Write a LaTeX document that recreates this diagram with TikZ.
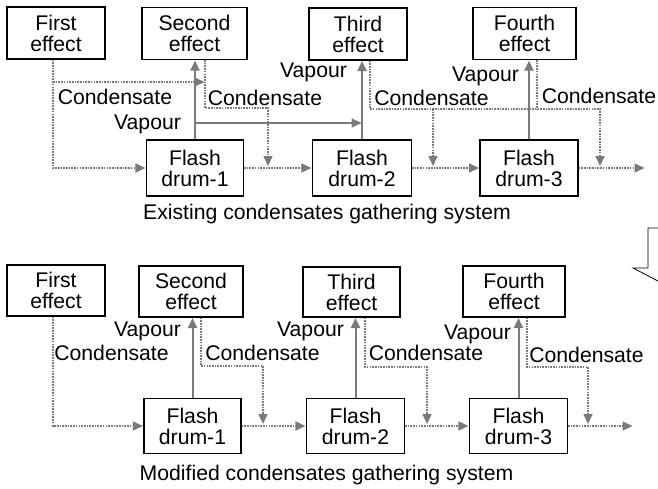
\documentclass[tikz,border=0pt]{standalone}
\usepackage{fontspec}
\setmainfont{Liberation Sans}
\usepackage{xcolor}
\usetikzlibrary{arrows.meta}
\definecolor{linegray}{RGB}{122,122,122}
\newcommand{\flowfont}{\fontsize{21.2}{21}\selectfont}

\begin{document}
\begin{tikzpicture}[x=1pt, y=-1pt,
    unit/.style={draw, line width=1.1pt, minimum width=98pt, minimum height=52pt, align=center, inner sep=0pt, font=\flowfont},
    drum/.style={unit, minimum height=56pt},
    cond/.style={draw=linegray, line width=1.6pt, dash pattern=on 1.6pt off 1.1pt},
    vap/.style={draw=linegray, line width=2pt},
    tip/.style={-{Triangle[length=10pt, width=9pt]}, shorten >=0.5pt},
    lbl/.style={font=\flowfont, inner sep=0pt}]
    \useasboundingbox (0,0) rectangle (658,488);

    % Existing system
    \node[unit] (ex1) at (56,33) {First\\effect};
    \node[unit, minimum width=105pt] (ex2) at (194.5,33.5) {Second\\effect};
    \node[unit] (ex3) at (358,34) {Third\\effect};
    \node[unit, minimum width=103pt] (ex4) at (524.5,33.5) {Fourth\\effect};
    \node[drum, minimum width=97pt] (exd1) at (195,168) {Flash\\drum-1};
    \node[drum, minimum width=99pt] (exd2) at (362,168) {Flash\\drum-2};
    \node[drum] (exd3) at (529,168) {Flash\\drum-3};

    \coordinate (exc1) at ([xshift=-3pt]ex1.south);
    \coordinate (exc2) at ([xshift=10.5pt]ex2.south);
    \coordinate (exc3) at ([xshift=12pt]ex3.south);
    \coordinate (exc4) at ([xshift=12.5pt]ex4.south);
    \coordinate (exj1) at (205,82);
    \coordinate (exk2) at (268,108);
    \coordinate (exk3) at (433,109);
    \coordinate (exk4) at (600,109);
    \coordinate (exv1) at (195,123);
    \coordinate (exout) at (645,168);

    % condensate lines
    \draw[cond, tip] (exc1) |- (exd1.west);
    \draw[cond, tip] (exc1 |- exj1) -- (exj1);
    \draw[cond, tip] (exc2) |- (exk2) -- ([yshift=1.5pt]exk2 |- exd1.east);
    \draw[cond, tip] (exc3) |- (exk4) -- ([yshift=1.5pt]exk4 |- exd3.east);
    \draw[cond, tip] (exk3) -- ([yshift=1.5pt]exk3 |- exd2.east);
    \draw[cond] (exc4) -- (exc4 |- exk4);
    \draw[cond, tip] (exd1.east) -- (exd2.west);
    \draw[cond, tip] (exd2.east) -- (exd3.west);
    \draw[cond, tip] (exd3.east) -- (exout);

    % vapour lines
    \draw[vap, tip] (exd1.north) -- (exd1.north |- ex2.south);
    \draw[vap, tip] (exv1) -- (exv1 -| exd2.north);
    \draw[vap, tip] (exd2.north) -- (exd2.north |- ex3.south);
    \draw[vap, tip] (exd3.north) -- (exd3.north |- ex4.south);

    \node[lbl] (exl1) at (115,97) {Condensate};
    \node[lbl] (exl2) at (147.5,124) {Vapour};
    \node[lbl] (exl3) at (265,98) {Condensate};
    \node[lbl] (exl4) at (313.5,72) {Vapour};
    \node[lbl] (exl5) at (431.5,98) {Condensate};
    \node[lbl] (exl6) at (485.5,76) {Vapour};
    \node[lbl] (exl7) at (599,96) {Condensate};
    \node[lbl] (excap) at (327,214) {Existing condensates gathering system};

    % Modified system
    \node[unit, minimum height=51pt] (mo1) at (56,290.5) {First\\effect};
    \node[unit, minimum width=104pt, minimum height=51pt] (mo2) at (191,291.5) {Second\\effect};
    \node[unit, minimum width=97pt, minimum height=50pt] (mo3) at (351.5,292) {Third\\effect};
    \node[unit, minimum width=102pt, minimum height=51pt] (mo4) at (514,291.5) {Fourth\\effect};
    \node[drum, minimum width=97pt, minimum height=55pt] (mod1) at (192.5,426) {Flash\\drum-1};
    \node[drum, minimum height=55pt] (mod2) at (355.5,426) {Flash\\drum-2};
    \node[drum, minimum height=55pt] (mod3) at (518.5,426) {Flash\\drum-3};

    \coordinate (moc1) at ([xshift=-3pt]mo1.south);
    \coordinate (moc2) at ([xshift=10pt]mo2.south);
    \coordinate (moc3) at ([xshift=13.5pt]mo3.south);
    \coordinate (moc4) at ([xshift=13pt]mo4.south);
    \coordinate (mok2) at (263,366);
    \coordinate (mok3) at (427,367);
    \coordinate (mok4) at (588,367);
    \coordinate (moout) at (633,426);

    % condensate lines
    \draw[cond, tip] (moc1) |- (mod1.west);
    \draw[cond, tip] (moc2) |- (mok2) -- ([yshift=1.5pt]mok2 |- mod1.east);
    \draw[cond, tip] (moc3) |- (mok3) -- ([yshift=1.5pt]mok3 |- mod2.east);
    \draw[cond, tip] (moc4) |- (mok4) -- ([yshift=1.5pt]mok4 |- mod3.east);
    \draw[cond, tip] (mod1.east) -- (mod2.west);
    \draw[cond, tip] (mod2.east) -- (mod3.west);
    \draw[cond, tip] (mod3.east) -- (moout);

    % vapour lines
    \draw[vap, tip] (mod1.north) -- (mod1.north |- mo2.south);
    \draw[vap, tip] (mod2.north) -- (mod2.north |- mo3.south);
    \draw[vap, tip] (mod3.north) -- (mod3.north |- mo4.south);

    \node[lbl] (mol1) at (147.5,331) {Vapour};
    \node[lbl] (mol2) at (111.5,353) {Condensate};
    \node[lbl] (mol3) at (262.5,353) {Condensate};
    \node[lbl] (mol4) at (310.5,331) {Vapour};
    \node[lbl] (mol5) at (426,353) {Condensate};
    \node[lbl] (mol6) at (477.5,334) {Vapour};
    \node[lbl] (mol7) at (586.5,355) {Condensate};
    \node[lbl] (mocap) at (326.5,475) {Modified condensates gathering system};

    % cut-off callout at the right
    \draw[line width=0.8pt] (658,228) -- (648,228) -- (648,268) -- (633,268) -- (658,281);
\end{tikzpicture}
\end{document}
